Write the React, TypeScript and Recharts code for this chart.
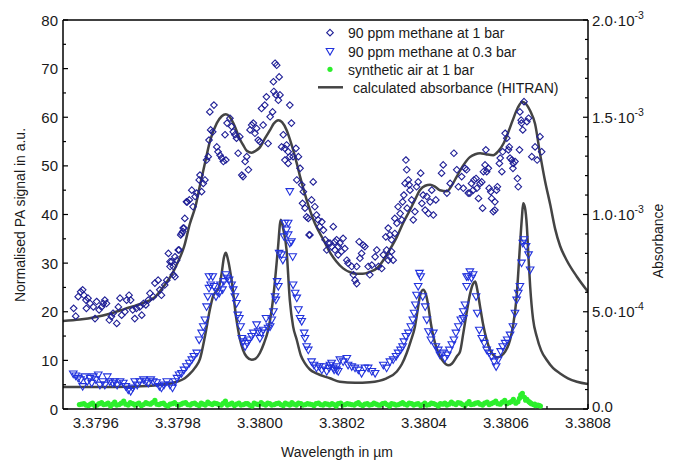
import React from 'react';
import { ComposedChart, Scatter, Line, XAxis, YAxis, ReferenceLine } from 'recharts';

// 90 ppm methane at 1 bar  [wavelength in µm, PA signal]
const methane1bar: [number, number][] = [
  [3.379546, 20.7], [3.379551, 19.1], [3.379557, 23.1], [3.379563, 24.1], [3.379568, 24.5], [3.379571, 23.4],
  [3.379576, 22.4], [3.379581, 22.8], [3.379577, 20.7], [3.379586, 21.7], [3.379594, 21.0], [3.379598, 18.6],
  [3.379602, 22.1], [3.379608, 20.4], [3.379614, 21.0], [3.379618, 21.7], [3.379622, 22.4], [3.379626, 21.7],
  [3.379633, 18.3], [3.379638, 19.0], [3.379642, 19.7], [3.379651, 17.6], [3.379655, 21.0], [3.379659, 22.8],
  [3.379663, 19.3], [3.379671, 20.0], [3.379675, 22.4], [3.379681, 23.4], [3.379685, 22.4], [3.379690, 20.4],
  [3.379695, 18.6], [3.379699, 20.7], [3.379707, 21.0], [3.379712, 19.3], [3.379716, 21.7], [3.379722, 21.4],
  [3.379728, 22.4], [3.379732, 23.8], [3.379740, 23.1], [3.379744, 25.9], [3.379752, 26.5], [3.379756, 24.5],
  [3.379760, 23.4], [3.379768, 25.5], [3.379773, 26.5], [3.379777, 32.0], [3.379781, 29.3], [3.379785, 30.3],
  [3.379789, 27.6], [3.379793, 27.2], [3.379797, 30.6], [3.379803, 32.7], [3.379807, 35.8], [3.379812, 36.5],
  [3.379815, 37.2], [3.379817, 39.2], [3.379823, 42.6], [3.379781, 30.3], [3.379793, 31.3], [3.379801, 32.7],
  [3.379789, 29.3], [3.379809, 36.1], [3.379813, 37.2], [3.379821, 42.6], [3.379828, 43.0], [3.379834, 45.0],
  [3.379837, 41.6], [3.379842, 43.7], [3.379846, 44.4], [3.379852, 47.1], [3.379854, 48.1], [3.379858, 44.7],
  [3.379862, 46.4], [3.379866, 47.1], [3.379870, 51.2], [3.379874, 51.9], [3.379876, 55.3], [3.379880, 57.4],
  [3.379885, 57.0], [3.379878, 61.1], [3.379888, 62.5], [3.379895, 53.9], [3.379898, 52.9], [3.379903, 52.2],
  [3.379907, 51.6], [3.379911, 50.9], [3.379917, 51.2], [3.379915, 56.4], [3.379920, 58.8], [3.379927, 59.8],
  [3.379931, 58.1], [3.379935, 57.0], [3.379939, 56.4], [3.379943, 55.7], [3.379947, 52.6], [3.379951, 56.0],
  [3.379956, 48.1], [3.379959, 47.8], [3.379964, 50.9], [3.379968, 51.9], [3.379972, 49.2], [3.379976, 57.4],
  [3.379980, 58.4], [3.379984, 58.8], [3.379988, 56.7], [3.379992, 57.7], [3.379996, 55.3], [3.380000, 55.0],
  [3.380004, 61.8], [3.380008, 58.4], [3.380012, 62.5], [3.380016, 64.2], [3.380020, 54.6], [3.380025, 60.1],
  [3.380031, 61.1], [3.380034, 65.3], [3.380039, 64.6], [3.380045, 63.5], [3.380033, 67.3], [3.380049, 64.6],
  [3.380073, 62.5], [3.380077, 58.8], [3.380053, 53.9], [3.380057, 56.4], [3.380061, 53.6], [3.380065, 54.3],
  [3.380069, 52.9], [3.380073, 51.9], [3.380061, 51.2], [3.380069, 50.5], [3.380081, 51.9], [3.380088, 53.6],
  [3.380094, 51.9], [3.380090, 47.1], [3.380098, 49.5], [3.380102, 46.1], [3.380106, 44.7], [3.380104, 42.3],
  [3.380110, 41.3], [3.380114, 39.5], [3.380130, 46.7], [3.380126, 43.0], [3.380134, 41.6], [3.380138, 39.9],
  [3.380142, 38.9], [3.380146, 37.5], [3.380120, 35.8], [3.380155, 36.8], [3.380159, 34.8], [3.380163, 32.7],
  [3.380167, 34.1], [3.380037, 71.1], [3.380041, 70.7], [3.380047, 68.3], [3.380118, 39.2], [3.380122, 35.8],
  [3.380151, 38.5], [3.380179, 37.5], [3.380171, 34.1], [3.380175, 33.4], [3.380183, 32.7], [3.380187, 34.8],
  [3.380191, 31.7], [3.380183, 34.4], [3.380191, 33.4], [3.380195, 34.1], [3.380203, 35.1], [3.380207, 33.0],
  [3.380199, 32.4], [3.380212, 30.6], [3.380215, 30.0], [3.380224, 29.3], [3.380228, 27.6], [3.380232, 26.5],
  [3.380236, 25.8], [3.380236, 29.3], [3.380244, 31.0], [3.380248, 32.0], [3.380242, 34.4], [3.380252, 33.7],
  [3.380256, 33.4], [3.380264, 29.3], [3.380268, 27.6], [3.380273, 29.6], [3.380281, 31.3], [3.380285, 32.7],
  [3.380289, 29.3], [3.380297, 28.9], [3.380301, 31.7], [3.380309, 32.7], [3.380313, 30.6], [3.380317, 31.3],
  [3.380321, 32.4], [3.380325, 30.6], [3.380307, 35.4], [3.380313, 37.2], [3.380317, 35.8], [3.380321, 34.8],
  [3.380329, 36.1], [3.380329, 39.2], [3.380334, 38.2], [3.380337, 41.6], [3.380342, 40.2], [3.380346, 38.9],
  [3.380348, 42.6], [3.380351, 44.0], [3.380354, 46.4], [3.380356, 51.2], [3.380358, 49.2], [3.380362, 47.1],
  [3.380364, 46.1], [3.380366, 45.0], [3.380359, 41.3], [3.380370, 43.0], [3.380374, 38.9], [3.380378, 40.6],
  [3.380382, 45.7], [3.380386, 46.7], [3.380392, 48.5], [3.380395, 42.3], [3.380398, 44.0], [3.380403, 40.9],
  [3.380407, 43.7], [3.380411, 40.2], [3.380415, 42.6], [3.380419, 45.0], [3.380423, 39.9], [3.380429, 43.0],
  [3.380443, 48.5], [3.380447, 50.2], [3.380456, 44.4], [3.380464, 46.4], [3.380473, 52.6], [3.380480, 49.2],
  [3.380484, 45.7], [3.380496, 45.4], [3.380504, 49.2], [3.380508, 44.4], [3.380492, 47.8], [3.380500, 49.5],
  [3.380512, 44.4], [3.380516, 46.4], [3.380522, 47.1], [3.380527, 47.4], [3.380520, 45.0], [3.380529, 45.4],
  [3.380533, 43.3], [3.380537, 46.4], [3.380541, 46.7], [3.380543, 41.3], [3.380545, 48.8], [3.380549, 50.2],
  [3.380551, 53.3], [3.380553, 48.8], [3.380557, 49.5], [3.380559, 45.4], [3.380563, 44.7], [3.380565, 43.3],
  [3.380569, 40.6], [3.380573, 40.9], [3.380573, 42.6], [3.380577, 45.0], [3.380579, 45.7], [3.380584, 50.5],
  [3.380586, 51.6], [3.380590, 48.8], [3.380592, 52.9], [3.380598, 56.7], [3.380602, 55.7], [3.380606, 53.3],
  [3.380608, 53.9], [3.380610, 51.6], [3.380614, 51.2], [3.380617, 49.5], [3.380622, 50.9], [3.380618, 50.5],
  [3.380628, 47.4], [3.380630, 45.7], [3.380633, 53.3], [3.380634, 61.1], [3.380637, 59.4], [3.380638, 58.8],
  [3.380641, 57.4], [3.380644, 63.2], [3.380651, 59.1], [3.380655, 59.8], [3.380663, 51.9], [3.380671, 53.9],
  [3.380676, 51.2], [3.380683, 56.0], [3.380687, 52.9],
];

// 90 ppm methane at 0.3 bar
const methane03bar: [number, number][] = [
  [3.379545, 7.2], [3.379551, 6.8], [3.379557, 6.3], [3.379563, 6.0], [3.379568, 4.6], [3.379573, 6.6],
  [3.379579, 5.6], [3.379586, 6.3], [3.379590, 5.3], [3.379594, 6.6], [3.379600, 6.0], [3.379606, 7.0],
  [3.379610, 4.9], [3.379617, 5.6], [3.379622, 4.9], [3.379628, 6.6], [3.379634, 5.6], [3.379641, 5.3],
  [3.379646, 5.6], [3.379652, 4.9], [3.379659, 5.6], [3.379667, 5.3], [3.379673, 4.6], [3.379679, 3.9],
  [3.379685, 3.6], [3.379690, 4.3], [3.379695, 5.6], [3.379701, 4.9], [3.379707, 5.6], [3.379716, 6.0],
  [3.379722, 5.6], [3.379728, 5.3], [3.379734, 6.0], [3.379740, 5.6], [3.379748, 5.4], [3.379755, 4.6],
  [3.379760, 4.3], [3.379766, 4.9], [3.379773, 5.6], [3.379781, 4.9], [3.379787, 4.3], [3.379793, 5.6],
  [3.379798, 6.3], [3.379803, 7.0], [3.379809, 7.3], [3.379815, 8.0], [3.379821, 8.7], [3.379828, 9.4],
  [3.379834, 10.1], [3.379839, 10.8], [3.379846, 11.5], [3.379852, 14.2], [3.379858, 15.6], [3.379862, 16.9],
  [3.379870, 21.0], [3.379873, 23.1], [3.379876, 27.2], [3.379866, 18.3], [3.379876, 24.8], [3.379880, 25.5],
  [3.379885, 27.2], [3.379888, 25.2], [3.379893, 23.1], [3.379896, 24.1], [3.379901, 23.8], [3.379904, 25.5],
  [3.379909, 24.5], [3.379912, 26.2], [3.379917, 27.6], [3.379920, 26.9], [3.379925, 26.5], [3.379931, 25.5],
  [3.379935, 24.5], [3.379939, 23.1], [3.379943, 21.7], [3.379946, 19.3], [3.379950, 18.6], [3.379953, 16.9],
  [3.379956, 14.5], [3.379959, 13.8], [3.379964, 12.8], [3.379969, 13.5], [3.379974, 14.2], [3.379980, 14.9],
  [3.379984, 15.6], [3.379992, 17.3], [3.379996, 15.9], [3.380000, 14.5], [3.380004, 15.6], [3.380008, 16.2],
  [3.380015, 18.6], [3.380020, 16.6], [3.380025, 16.9], [3.380029, 18.3], [3.380033, 20.0], [3.380037, 23.1],
  [3.380039, 22.4], [3.380042, 26.2], [3.380045, 25.2], [3.380047, 32.0], [3.380053, 31.7], [3.380056, 30.6],
  [3.380059, 35.4], [3.380061, 38.2], [3.380065, 36.8], [3.380069, 38.2], [3.380069, 35.8], [3.380073, 34.1],
  [3.380077, 34.4], [3.380073, 44.7], [3.380080, 31.3], [3.380081, 25.5], [3.380086, 23.8], [3.380090, 22.8],
  [3.380094, 20.4], [3.380098, 18.6], [3.380102, 18.0], [3.380108, 15.6], [3.380110, 14.5], [3.380114, 12.8],
  [3.380118, 12.1], [3.380126, 9.7], [3.380132, 9.0], [3.380138, 8.4], [3.380145, 8.7], [3.380151, 8.0],
  [3.380156, 8.7], [3.380163, 7.7], [3.380169, 8.4], [3.380175, 9.4], [3.380181, 8.0], [3.380187, 8.7],
  [3.380191, 7.7], [3.380171, 9.0], [3.380179, 8.4], [3.380187, 8.0], [3.380195, 10.1], [3.380203, 9.7],
  [3.380212, 10.4], [3.380215, 9.0], [3.380224, 8.7], [3.380232, 8.4], [3.380240, 8.0], [3.380248, 7.3],
  [3.380256, 8.4], [3.380264, 8.4], [3.380273, 7.7], [3.380281, 7.3], [3.380301, 9.0], [3.380309, 8.4],
  [3.380317, 9.7], [3.380325, 10.1], [3.380332, 10.8], [3.380337, 11.5], [3.380343, 12.1], [3.380348, 12.8],
  [3.380351, 13.8], [3.380356, 14.9], [3.380362, 15.6], [3.380368, 16.9], [3.380373, 18.3], [3.380376, 19.7],
  [3.380379, 21.4], [3.380382, 23.4], [3.380386, 25.2], [3.380389, 27.9], [3.380392, 27.2], [3.380397, 23.1],
  [3.380403, 21.0], [3.380407, 18.3], [3.380411, 15.9], [3.380417, 14.2], [3.380423, 15.6], [3.380429, 12.8],
  [3.380435, 12.1], [3.380439, 11.1], [3.380446, 11.5], [3.380451, 10.4], [3.380457, 11.1], [3.380462, 12.1],
  [3.380468, 13.2], [3.380473, 14.2], [3.380478, 15.6], [3.380484, 16.9], [3.380490, 18.3], [3.380496, 20.0],
  [3.380500, 21.4], [3.380504, 27.2], [3.380496, 18.6], [3.380504, 25.2], [3.380508, 27.2], [3.380512, 28.2],
  [3.380516, 26.9], [3.380520, 27.6], [3.380527, 23.1], [3.380530, 19.7], [3.380535, 16.2], [3.380541, 14.5],
  [3.380547, 13.5], [3.380553, 12.1], [3.380559, 11.5], [3.380565, 10.8], [3.380571, 9.7], [3.380576, 8.7],
  [3.380581, 10.1], [3.380587, 11.8], [3.380592, 12.8], [3.380598, 13.5], [3.380603, 14.2], [3.380610, 15.2],
  [3.380617, 16.9], [3.380622, 19.7], [3.380626, 22.4], [3.380630, 23.8], [3.380634, 25.2], [3.380638, 30.0],
  [3.380641, 34.1], [3.380644, 34.8], [3.380649, 33.4], [3.380655, 31.7], [3.380659, 28.6],
];

// synthetic air at 1 bar
const synthAir: [number, number][] = [
  [3.379560, 0.9], [3.379571, 1.1], [3.379582, 0.7], [3.379592, 1.2], [3.379603, 0.8], [3.379614, 1.3],
  [3.379625, 1.0], [3.379636, 0.6], [3.379646, 1.4], [3.379657, 0.9], [3.379668, 1.6], [3.379679, 0.8],
  [3.379690, 1.1], [3.379700, 1.0], [3.379711, 0.7], [3.379722, 1.3], [3.379733, 1.0], [3.379744, 1.8],
  [3.379754, 0.9], [3.379765, 1.2], [3.379776, 0.6], [3.379787, 1.1], [3.379798, 0.9], [3.379808, 1.0],
  [3.379819, 1.3], [3.379830, 0.8], [3.379841, 1.2], [3.379852, 0.7], [3.379862, 1.0], [3.379873, 1.4],
  [3.379884, 0.9], [3.379895, 1.1], [3.379906, 0.8], [3.379916, 1.6], [3.379927, 1.0], [3.379938, 0.7],
  [3.379949, 1.2], [3.379960, 0.9], [3.379970, 1.1], [3.379981, 0.6], [3.379992, 1.0], [3.380003, 1.3],
  [3.380014, 0.8], [3.380024, 1.1], [3.380035, 0.9], [3.380046, 1.2], [3.380057, 0.7], [3.380068, 1.0],
  [3.380078, 1.3], [3.380089, 0.8], [3.380100, 1.1], [3.380111, 0.9], [3.380122, 1.0], [3.380132, 0.7],
  [3.380143, 1.2], [3.380154, 0.8], [3.380165, 1.0], [3.380176, 1.1], [3.380186, 0.6], [3.380197, 1.2],
  [3.380208, 0.9], [3.380219, 1.0], [3.380230, 0.8], [3.380240, 1.3], [3.380251, 0.7], [3.380262, 1.1],
  [3.380273, 0.9], [3.380284, 1.0], [3.380294, 0.8], [3.380305, 1.2], [3.380316, 0.6], [3.380327, 1.0],
  [3.380338, 0.9], [3.380348, 1.3], [3.380359, 0.8], [3.380370, 1.1], [3.380381, 1.0], [3.380392, 0.7],
  [3.380402, 1.2], [3.380413, 0.9], [3.380424, 1.1], [3.380435, 0.6], [3.380446, 1.0], [3.380456, 0.8],
  [3.380467, 1.4], [3.380478, 0.9], [3.380489, 1.2], [3.380500, 0.7], [3.380510, 1.5], [3.380521, 1.0],
  [3.380532, 1.3], [3.380543, 0.8], [3.380554, 1.4], [3.380564, 1.1], [3.380575, 1.6], [3.380586, 1.0],
  [3.380597, 1.8], [3.380608, 1.3], [3.380618, 2.0], [3.380629, 1.5], [3.380636, 2.9], [3.380640, 3.2],
  [3.380645, 2.4], [3.380651, 2.0], [3.380656, 1.5], [3.380662, 1.1], [3.380667, 0.9], [3.380672, 0.7],
  [3.380678, 0.8], [3.380684, 0.6],
  [3.379565, 1.0], [3.379576, 0.8], [3.379587, 1.0], [3.379597, 0.7], [3.379608, 1.1], [3.379619, 0.9],
  [3.379630, 1.2], [3.379641, 1.0], [3.379651, 0.8], [3.379662, 1.2], [3.379673, 1.0], [3.379684, 1.3],
  [3.379695, 0.8], [3.379705, 1.2], [3.379716, 0.9], [3.379727, 1.1], [3.379738, 1.3], [3.379749, 1.0],
  [3.379759, 1.1], [3.379770, 0.8], [3.379781, 1.0], [3.379792, 1.3], [3.379803, 0.8], [3.379813, 1.2],
  [3.379824, 0.9], [3.379835, 1.1], [3.379846, 0.9], [3.379857, 1.2], [3.379867, 0.8], [3.379878, 1.1],
  [3.379889, 1.2], [3.379900, 0.9], [3.379911, 1.2], [3.379921, 0.8], [3.379932, 1.2], [3.379943, 1.0],
  [3.379954, 0.8], [3.379965, 1.1], [3.379975, 0.8], [3.379986, 1.2], [3.379997, 0.9], [3.380008, 1.0],
  [3.380019, 1.2], [3.380029, 0.8], [3.380040, 1.1], [3.380051, 0.9], [3.380062, 1.2], [3.380073, 0.8],
  [3.380083, 1.0], [3.380094, 1.2], [3.380105, 0.8], [3.380116, 1.1], [3.380127, 0.9], [3.380137, 1.1],
  [3.380148, 0.9], [3.380159, 1.1], [3.380170, 0.8], [3.380181, 0.9], [3.380191, 1.1], [3.380202, 0.8],
  [3.380213, 1.1], [3.380224, 0.9], [3.380235, 1.1], [3.380245, 0.9], [3.380256, 1.0], [3.380267, 0.8],
  [3.380278, 1.2], [3.380289, 0.8], [3.380299, 1.1], [3.380310, 0.9], [3.380321, 1.1], [3.380332, 0.8],
  [3.380343, 1.1], [3.380353, 1.0], [3.380364, 1.2], [3.380375, 0.8], [3.380386, 1.1], [3.380397, 0.9],
  [3.380407, 0.8], [3.380418, 1.2], [3.380429, 0.9], [3.380440, 1.1], [3.380451, 1.2], [3.380461, 1.0],
  [3.380472, 1.1], [3.380483, 1.3], [3.380494, 0.9], [3.380505, 1.1], [3.380515, 0.9], [3.380526, 1.2],
  [3.380537, 1.0], [3.380548, 1.2], [3.380559, 0.9], [3.380569, 1.3], [3.380580, 1.1], [3.380591, 1.4],
  [3.380602, 1.1], [3.380613, 1.5], [3.380624, 1.2], [3.380633, 2.2], [3.380648, 1.8], [3.380659, 1.3],
  [3.380670, 1.0], [3.380681, 0.7],
];

// HITRAN absorbance, 1 bar
const hitran1bar: [number, number][] = [
  [3.379520, 0.000453], [3.379561, 0.000460], [3.379600, 0.000473], [3.379634, 0.000490], [3.379671, 0.000515],
  [3.379715, 0.000545], [3.379744, 0.000575], [3.379768, 0.000638], [3.379786, 0.000695], [3.379800, 0.000755],
  [3.379815, 0.000833], [3.379829, 0.000950], [3.379844, 0.001050], [3.379854, 0.001150], [3.379866, 0.001263],
  [3.379878, 0.001375], [3.379895, 0.001470], [3.379907, 0.001505], [3.379917, 0.001515], [3.379927, 0.001500],
  [3.379939, 0.001453], [3.379951, 0.001388], [3.379959, 0.001358], [3.379968, 0.001328], [3.379980, 0.001318],
  [3.379990, 0.001328], [3.380000, 0.001345], [3.380012, 0.001390], [3.380025, 0.001435], [3.380034, 0.001468],
  [3.380045, 0.001485], [3.380054, 0.001475], [3.380065, 0.001435], [3.380073, 0.001388], [3.380081, 0.001333],
  [3.380090, 0.001263], [3.380098, 0.001195], [3.380114, 0.001075], [3.380134, 0.000955], [3.380155, 0.000870],
  [3.380171, 0.000805], [3.380186, 0.000760], [3.380203, 0.000723], [3.380220, 0.000703], [3.380236, 0.000695],
  [3.380251, 0.000695], [3.380268, 0.000705], [3.380286, 0.000725], [3.380301, 0.000765], [3.380317, 0.000820],
  [3.380334, 0.000885], [3.380349, 0.000955], [3.380366, 0.001023], [3.380378, 0.001075], [3.380390, 0.001125],
  [3.380403, 0.001148], [3.380415, 0.001153], [3.380427, 0.001143], [3.380439, 0.001125], [3.380456, 0.001120],
  [3.380468, 0.001150], [3.380480, 0.001195], [3.380495, 0.001250], [3.380512, 0.001295], [3.380525, 0.001310],
  [3.380537, 0.001315], [3.380551, 0.001310], [3.380569, 0.001305], [3.380581, 0.001325], [3.380594, 0.001365],
  [3.380605, 0.001420], [3.380617, 0.001488], [3.380629, 0.001550], [3.380640, 0.001580], [3.380649, 0.001568],
  [3.380659, 0.001533], [3.380671, 0.001465], [3.380683, 0.001313], [3.380695, 0.001175], [3.380708, 0.001050],
  [3.380720, 0.000925], [3.380732, 0.000838], [3.380748, 0.000765], [3.380773, 0.000680], [3.380800, 0.000603],
];

// HITRAN absorbance, 0.3 bar
const hitran03bar: [number, number][] = [
  [3.379520, 0.000113], [3.379600, 0.000113], [3.379690, 0.000115], [3.379756, 0.000123], [3.379797, 0.000140],
  [3.379817, 0.000158], [3.379829, 0.000180], [3.379842, 0.000213], [3.379854, 0.000258], [3.379866, 0.000373],
  [3.379878, 0.000510], [3.379886, 0.000580], [3.379895, 0.000608], [3.379900, 0.000625], [3.379907, 0.000700],
  [3.379912, 0.000775], [3.379917, 0.000803], [3.379922, 0.000770], [3.379931, 0.000663], [3.379943, 0.000458],
  [3.379951, 0.000363], [3.379959, 0.000303], [3.379968, 0.000268], [3.379980, 0.000253], [3.379990, 0.000260],
  [3.380000, 0.000288], [3.380010, 0.000338], [3.380020, 0.000405], [3.380029, 0.000513], [3.380037, 0.000663],
  [3.380044, 0.000825], [3.380051, 0.000973], [3.380057, 0.000925], [3.380065, 0.000818], [3.380073, 0.000560],
  [3.380081, 0.000425], [3.380090, 0.000355], [3.380100, 0.000275], [3.380110, 0.000235], [3.380122, 0.000203],
  [3.380138, 0.000183], [3.380171, 0.000158], [3.380195, 0.000140], [3.380232, 0.000135], [3.380268, 0.000138],
  [3.380309, 0.000158], [3.380334, 0.000193], [3.380346, 0.000230], [3.380358, 0.000288], [3.380368, 0.000350],
  [3.380378, 0.000423], [3.380385, 0.000513], [3.380390, 0.000578], [3.380398, 0.000613], [3.380405, 0.000588],
  [3.380411, 0.000525], [3.380417, 0.000438], [3.380423, 0.000373], [3.380432, 0.000305], [3.380439, 0.000270],
  [3.380449, 0.000240], [3.380459, 0.000225], [3.380468, 0.000233], [3.380480, 0.000270], [3.380488, 0.000295],
  [3.380496, 0.000390], [3.380504, 0.000493], [3.380512, 0.000588], [3.380520, 0.000645], [3.380525, 0.000655],
  [3.380529, 0.000625], [3.380537, 0.000525], [3.380544, 0.000438], [3.380553, 0.000355], [3.380561, 0.000305],
  [3.380569, 0.000278], [3.380578, 0.000265], [3.380586, 0.000270], [3.380598, 0.000295], [3.380610, 0.000355],
  [3.380618, 0.000438], [3.380626, 0.000578], [3.380634, 0.000835], [3.380639, 0.000988], [3.380642, 0.001058],
  [3.380646, 0.001038], [3.380651, 0.000938], [3.380655, 0.000775], [3.380659, 0.000630], [3.380666, 0.000463],
  [3.380675, 0.000373], [3.380686, 0.000300], [3.380699, 0.000253], [3.380715, 0.000210], [3.380732, 0.000183],
  [3.380751, 0.000158], [3.380773, 0.000140], [3.380800, 0.000128],
];

const xTicks = [3.3796, 3.3797, 3.3798, 3.3799, 3.38, 3.3801, 3.3802, 3.3803, 3.3804, 3.3805, 3.3806, 3.3807, 3.3808];
const leftTicks = [0, 5, 10, 15, 20, 25, 30, 35, 40, 45, 50, 55, 60, 65, 70, 75, 80];
const rightTicks = [0, 0.0001, 0.0002, 0.0003, 0.0004, 0.0005, 0.0006, 0.0007, 0.0008, 0.0009, 0.001,
  0.0011, 0.0012, 0.0013, 0.0014, 0.0015, 0.0016, 0.0017, 0.0018, 0.0019, 0.002];

const toPts = (a: [number, number][]) => a.map(([x, y]) => ({ x, y }));

const FONT = '"Liberation Sans", Arial, Helvetica, sans-serif';
const TXT = '#1a1a1a';
const DIAMOND = '#1f1f96';
const TRIANGLE = '#2233dd';
const GREEN = '#2cef2c';
const CURVE = '#444444';

const Diamond = ({ cx, cy }: any) => (
  <polygon points={`${cx},${cy - 3.3} ${cx + 3.3},${cy} ${cx},${cy + 3.3} ${cx - 3.3},${cy}`}
    fill="none" stroke={DIAMOND} strokeWidth={1.1} />
);
const TriDown = ({ cx, cy }: any) => (
  <polygon points={`${cx - 3.8},${cy - 3} ${cx + 3.8},${cy - 3} ${cx},${cy + 3.6}`}
    fill="none" stroke={TRIANGLE} strokeWidth={1.1} />
);
const Dot = ({ cx, cy }: any) => <circle cx={cx} cy={cy} r={2.6} fill={GREEN} />;

const LeftTick = ({ x, y, payload }: any) => {
  const major = payload.value % 10 === 0;
  return (
    <g>
      <line x1={x} x2={x + (major ? 5 : 3)} y1={y} y2={y} stroke="#000" strokeWidth={1.2} />
      {major && (
        <text x={x - 5} y={y + 5.5} textAnchor="end" fontSize={15} fontFamily={FONT} fill={TXT}>
          {payload.value}
        </text>
      )}
    </g>
  );
};

const RightTick = ({ x, y, payload }: any) => {
  const v = payload.value;
  const major = Math.round(v * 10000) % 5 === 0;
  let mant = '0.0';
  let exp = '';
  if (v > 0) {
    const e = Math.floor(Math.log10(v) + 1e-9);
    mant = (v / Math.pow(10, e)).toFixed(1) + '\u00b710';
    exp = String(e);
  }
  // the zero label sits a little higher so it clears the 3.3808 label
  const dy = v === 0 ? 3 : 5.5;
  return (
    <g>
      <line x1={x} x2={x - (major ? 5 : 3)} y1={y} y2={y} stroke="#000" strokeWidth={1.2} />
      {major && (
        <text x={x + 4} y={y + dy} textAnchor="start" fontSize={15} fontFamily={FONT} fill={TXT}>
          {mant}
          {exp && <tspan dy={-7} fontSize={10.5}>{exp}</tspan>}
        </text>
      )}
    </g>
  );
};

const BottomTick = ({ x, y, payload }: any) => {
  const major = Math.round(payload.value * 10000) % 2 === 0;
  return (
    <g>
      <line x1={x} x2={x} y1={y} y2={y - (major ? 5 : 3)} stroke="#000" strokeWidth={1.2} />
      {major && (
        <text x={x} y={y + 19} textAnchor="middle" fontSize={15} fontFamily={FONT} fill={TXT}>
          {payload.value.toFixed(4)}
        </text>
      )}
    </g>
  );
};

export default function App() {
  const axisLine = { stroke: '#000', strokeWidth: 1.5 };
  return (
    <div style={{ position: 'absolute', left: 0, top: 0, width: 673, height: 463, background: '#fff' }}>
      <ComposedChart width={673} height={463} margin={{ top: 20, right: 0, bottom: 0, left: 0 }}>
        <XAxis type="number" dataKey="x" domain={[3.37952, 3.3808]} ticks={xTicks} allowDataOverflow
          interval={0} tickSize={0} tickMargin={0} tick={<BottomTick />} axisLine={axisLine} height={54} />
        <YAxis yAxisId="l" type="number" dataKey="y" domain={[0, 80]} ticks={leftTicks} allowDataOverflow
          interval={0} tickSize={0} tickMargin={0} tick={<LeftTick />} axisLine={axisLine} width={63} />
        <YAxis yAxisId="r" orientation="right" type="number" dataKey="y" domain={[0, 0.002]} ticks={rightTicks}
          allowDataOverflow interval={0} tickSize={0} tickMargin={0} tick={<RightTick />} axisLine={axisLine} width={85} />
        <ReferenceLine yAxisId="l" y={80} stroke="#000" strokeWidth={1.5} ifOverflow="visible" />
        <Scatter yAxisId="l" data={toPts(synthAir)} dataKey="y" shape={<Dot />} isAnimationActive={false} />
        <Scatter yAxisId="l" data={toPts(methane03bar)} dataKey="y" shape={<TriDown />} isAnimationActive={false} />
        <Scatter yAxisId="l" data={toPts(methane1bar)} dataKey="y" shape={<Diamond />} isAnimationActive={false} />
        <Line yAxisId="r" data={toPts(hitran1bar)} dataKey="y" type="monotone" stroke={CURVE} strokeWidth={2.5}
          dot={false} activeDot={false} isAnimationActive={false} />
        <Line yAxisId="r" data={toPts(hitran03bar)} dataKey="y" type="monotone" stroke={CURVE} strokeWidth={2.5}
          dot={false} activeDot={false} isAnimationActive={false} />
      </ComposedChart>
      <svg width={673} height={463} style={{ position: 'absolute', left: 0, top: 0, pointerEvents: 'none' }}
        fontFamily={FONT} fill={TXT}>
        <Diamond cx={330} cy={32.7} />
        <text x={348} y={37.5} fontSize={14}>90 ppm methane at 1 bar</text>
        <TriDown cx={330} cy={51.5} />
        <text x={348} y={56.5} fontSize={14}>90 ppm methane at 0.3 bar</text>
        <Dot cx={330} cy={69.3} />
        <text x={348} y={74.5} fontSize={14}>synthetic air at 1 bar</text>
        <line x1={318} x2={343} y1={87.3} y2={87.3} stroke={CURVE} strokeWidth={2.5} />
        <text x={353} y={92.5} fontSize={14}>calculated absorbance (HITRAN)</text>
        <text x={337} y={457} fontSize={14} textAnchor="middle">Wavelength in µm</text>
        <text transform="translate(25,215) rotate(-90)" fontSize={14} textAnchor="middle">Normalised PA signal in a.u.</text>
        <text transform="translate(663,241) rotate(-90)" fontSize={14} textAnchor="middle">Absorbance</text>
      </svg>
    </div>
  );
}
